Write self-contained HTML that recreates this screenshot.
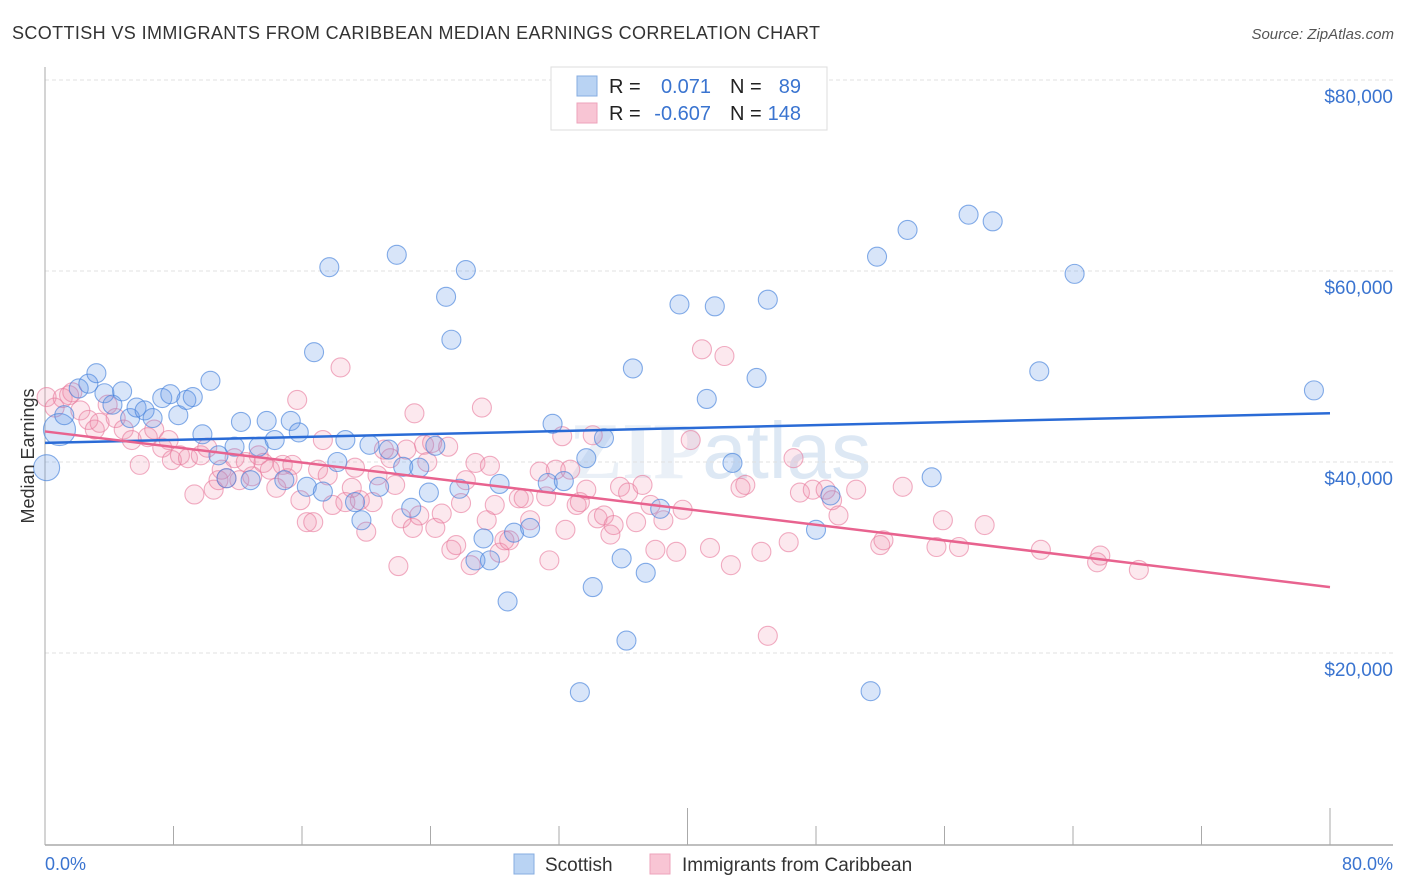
<!DOCTYPE html>
<html><head><meta charset="utf-8"><style>
body{margin:0;background:#fff;font-family:"Liberation Sans",sans-serif;}
#wrap{position:relative;width:1406px;height:892px;overflow:hidden;}
</style></head><body>
<div id="wrap">
<svg id="chart" width="1406" height="892" xmlns="http://www.w3.org/2000/svg">
<text x="12" y="39" font-size="18" fill="#333" textLength="808" font-family="Liberation Sans, sans-serif">SCOTTISH VS IMMIGRANTS FROM CARIBBEAN MEDIAN EARNINGS CORRELATION CHART</text>
<text x="1394" y="39" font-size="15" fill="#555" font-style="italic" text-anchor="end" font-family="Liberation Sans, sans-serif">Source: ZipAtlas.com</text>
<text x="720" y="478" font-size="80" fill="#eaf0f7" text-anchor="middle" font-family="Liberation Serif, serif" font-weight="bold">ZIP<tspan font-family="Liberation Sans, sans-serif" font-weight="normal" fill="#dde8f4">atlas</tspan></text>
<g id="grid"></g>
<g id="axes"></g>
<g id="pts"></g>
<g id="trend"></g>
<text transform="translate(34,456) rotate(-90)" font-size="18" fill="#333" text-anchor="middle" font-family="Liberation Sans, sans-serif">Median Earnings</text>
<g>
<rect x="551" y="67" width="276" height="63" fill="#fff" stroke="#ddd"/>
<rect x="577" y="76" width="20" height="20" fill="#b9d3f3" stroke="#86ace0"/>
<rect x="577" y="103" width="20" height="20" fill="#f8c5d4" stroke="#eea3bb"/>
<text x="609" y="93" font-size="20" fill="#222">R =</text>
<text x="711" y="93" font-size="20" fill="#3a74d0" text-anchor="end">0.071</text>
<text x="730" y="93" font-size="20" fill="#222">N =</text>
<text x="801" y="93" font-size="20" fill="#3a74d0" text-anchor="end">89</text>
<text x="609" y="120" font-size="20" fill="#222">R =</text>
<text x="711" y="120" font-size="20" fill="#3a74d0" text-anchor="end">-0.607</text>
<text x="730" y="120" font-size="20" fill="#222">N =</text>
<text x="801" y="120" font-size="20" fill="#3a74d0" text-anchor="end">148</text>
</g>
<g>
<rect x="514" y="854" width="20" height="20" fill="#b9d3f3" stroke="#86ace0"/>
<text x="545" y="871" font-size="19" fill="#333">Scottish</text>
<rect x="650" y="854" width="20" height="20" fill="#f8c5d4" stroke="#eea3bb"/>
<text x="682" y="871" font-size="19" fill="#333">Immigrants from Caribbean</text>
</g>
<text x="45" y="870" font-size="18" fill="#3a74d0">0.0%</text>
<text x="1393" y="870" font-size="18" fill="#3a74d0" text-anchor="end">80.0%</text>
</svg>
</div>
<script>
const yTicks=[20000,40000,60000,80000];
const yTickLabels=["$20,000","$40,000","$60,000","$80,000"];
const xTicks=[0,8,16,24,32,40,48,56,64,72,80];
const scotX=[0.1,0.9,1.2,2.1,2.7,3.2,3.7,4.2,4.8,5.3,5.7,6.2,6.7,7.3,7.8,8.3,8.8,9.2,9.8,10.3,10.8,11.3,11.8,12.2,12.8,13.3,13.8,14.3,14.9,15.3,15.8,16.3,16.75,17.3,17.7,18.2,18.7,19.3,19.7,20.2,20.8,21.4,21.9,22.3,22.8,23.3,23.9,24.3,24.97,25.3,25.8,26.2,26.8,27.3,27.7,28.3,28.8,29.2,30.2,31.3,31.6,32.3,33.3,33.7,34.1,34.8,35.9,36.2,36.6,37.4,38.3,39.5,41.2,41.7,42.8,44.3,45.0,48.0,48.9,51.4,51.8,53.7,55.2,57.5,59.0,61.9,64.1,79.0];
const scotY=[39.4,43.4,44.9,47.7,48.2,49.3,47.2,46.0,47.4,44.6,45.7,45.4,44.6,46.7,47.1,44.9,46.5,46.8,42.9,48.5,40.7,38.3,41.6,44.2,38.1,41.6,44.3,42.3,38.1,44.3,43.1,37.4,51.5,36.9,60.4,40.0,42.3,35.8,33.9,41.8,37.4,41.3,61.7,39.5,35.2,39.4,36.8,41.7,57.3,52.8,37.2,60.1,29.7,32.0,29.7,37.7,25.4,32.6,33.1,37.8,44.0,38.0,15.9,40.4,26.9,42.5,29.9,21.3,49.8,28.4,35.1,56.5,46.6,56.3,39.9,48.8,57.0,32.9,36.5,16.0,61.5,64.3,38.4,65.9,65.2,49.5,59.7,47.5];
const caribX=[0.1,0.6,1.1,1.5,1.7,2.2,2.7,3.1,3.4,3.9,4.4,4.9,5.4,5.9,6.4,6.8,7.3,7.7,7.9,8.4,8.9,9.3,9.7,10.1,10.5,10.8,11.0,11.3,11.8,12.1,12.5,12.9,13.3,13.6,14.0,14.4,14.8,15.1,15.4,15.7,15.9,16.3,16.7,17.0,17.3,17.6,17.9,18.4,18.7,19.1,19.3,19.6,20.0,20.4,20.7,21.1,21.5,21.8,22.0,22.2,22.5,22.9,23.0,23.3,23.6,23.8,24.1,24.3,24.7,25.1,25.3,25.6,25.9,26.2,26.5,26.8,27.2,27.5,27.7,28.0,28.3,28.6,28.9,29.5,29.8,30.2,30.8,31.2,31.4,31.8,32.2,32.4,32.7,33.1,33.3,33.7,34.1,34.4,34.8,35.2,35.4,35.8,36.3,36.8,37.2,37.7,38.0,38.5,39.3,39.7,40.2,40.9,41.4,42.3,42.7,43.3,43.6,44.6,45.0,46.3,46.6,47.0,47.8,48.6,49.0,49.4,50.5,52.0,52.2,53.4,55.5,55.9,56.9,58.5,62.0,65.5,65.7,68.1];
const caribY=[46.8,45.7,46.7,47.0,47.3,45.4,44.4,43.4,44.1,46.0,44.6,43.4,42.3,39.7,42.6,43.4,41.5,42.3,40.2,40.7,40.4,36.6,40.7,41.5,37.1,38.1,39.2,38.3,40.4,38.1,40.0,38.5,40.7,39.9,39.2,37.3,39.7,38.3,39.7,46.5,36.0,33.7,33.7,39.2,42.3,38.6,35.5,49.9,35.8,37.3,39.4,36.0,32.7,35.8,38.6,41.3,40.4,37.6,29.1,34.1,41.3,33.1,45.1,34.4,41.8,40.0,42.0,33.1,34.6,41.6,30.8,31.3,35.7,38.1,29.2,39.9,45.7,33.9,39.6,35.5,30.5,31.8,31.8,36.2,36.2,33.9,39.0,36.4,29.7,39.2,42.7,32.9,39.2,35.5,35.8,37.1,42.8,34.1,34.4,32.4,33.4,37.4,36.8,33.7,37.6,35.5,30.8,33.9,30.6,35.0,42.3,51.8,31.0,51.1,29.2,37.3,37.6,30.6,21.8,31.6,40.4,36.8,37.1,37.1,36.0,34.4,37.1,31.3,31.8,37.4,31.1,33.9,31.1,33.4,30.8,29.5,30.2,28.7];
const scotTrend=[42.0,45.1];
const caribTrend=[43.2,26.9];
const trendX=[0,80];
const NS='http://www.w3.org/2000/svg';
function sx(p){return 45+p/80*1285;}
function sy(v){return 844-v/20000*191;}
function mk(tag,attrs,parent){const e=document.createElementNS(NS,tag);for(const k in attrs)e.setAttribute(k,attrs[k]);parent.appendChild(e);return e;}
const grid=document.getElementById('grid'),axes=document.getElementById('axes'),pts=document.getElementById('pts'),trend=document.getElementById('trend');
yTicks.forEach((t,i)=>{
 const l=mk('line',{x1:45,x2:1393,y1:sy(t),y2:sy(t),stroke:'#e0e0e0','stroke-dasharray':'4,3'},grid);
 
 
 const tx=mk('text',{x:1393,y:sy(t)+23,'font-size':19,fill:'#3a74d0','text-anchor':'end'},grid);
 tx.textContent=yTickLabels[i];
 
 
});
const ya=mk('line',{x1:45,x2:45,y1:67,y2:845,stroke:'#aaa'},axes);


const xa=mk('line',{x1:45,x2:1393,y1:845,y2:845,stroke:'#aaa','stroke-width':1.5},axes);


xTicks.forEach(t=>{
 const big=(t===40||t===80);
 const l=mk('line',{x1:sx(t),x2:sx(t),y1:big?808:826,y2:845,stroke:'#aaa'},axes);
 
 
});
function dots(X,Y,fill,stroke,name,bigFirst){
 X.forEach((x,i)=>{
  const r=(bigFirst&&x<1)?(Y[i]<40.5?13:16):9.5;
  const c=mk('circle',{cx:sx(x),cy:sy(Y[i]*1000),r:r,fill:fill,stroke:stroke,'stroke-width':1.1},pts);
  
  
 });
}
dots(caribX,caribY,'rgba(240,140,170,0.2)','rgba(232,120,155,0.6)','caribbean-point',false);
dots(scotX,scotY,'rgba(100,150,230,0.25)','rgba(70,130,220,0.65)','scottish-point',true);
const t1=mk('line',{x1:sx(trendX[0]),x2:sx(trendX[1]),y1:sy(scotTrend[0]*1000),y2:sy(scotTrend[1]*1000),stroke:'#2a6bd6','stroke-width':2.5},trend);


const t2=mk('line',{x1:sx(trendX[0]),x2:sx(trendX[1]),y1:sy(caribTrend[0]*1000),y2:sy(caribTrend[1]*1000),stroke:'#e8638f','stroke-width':2.5},trend);


</script>
</body></html>
